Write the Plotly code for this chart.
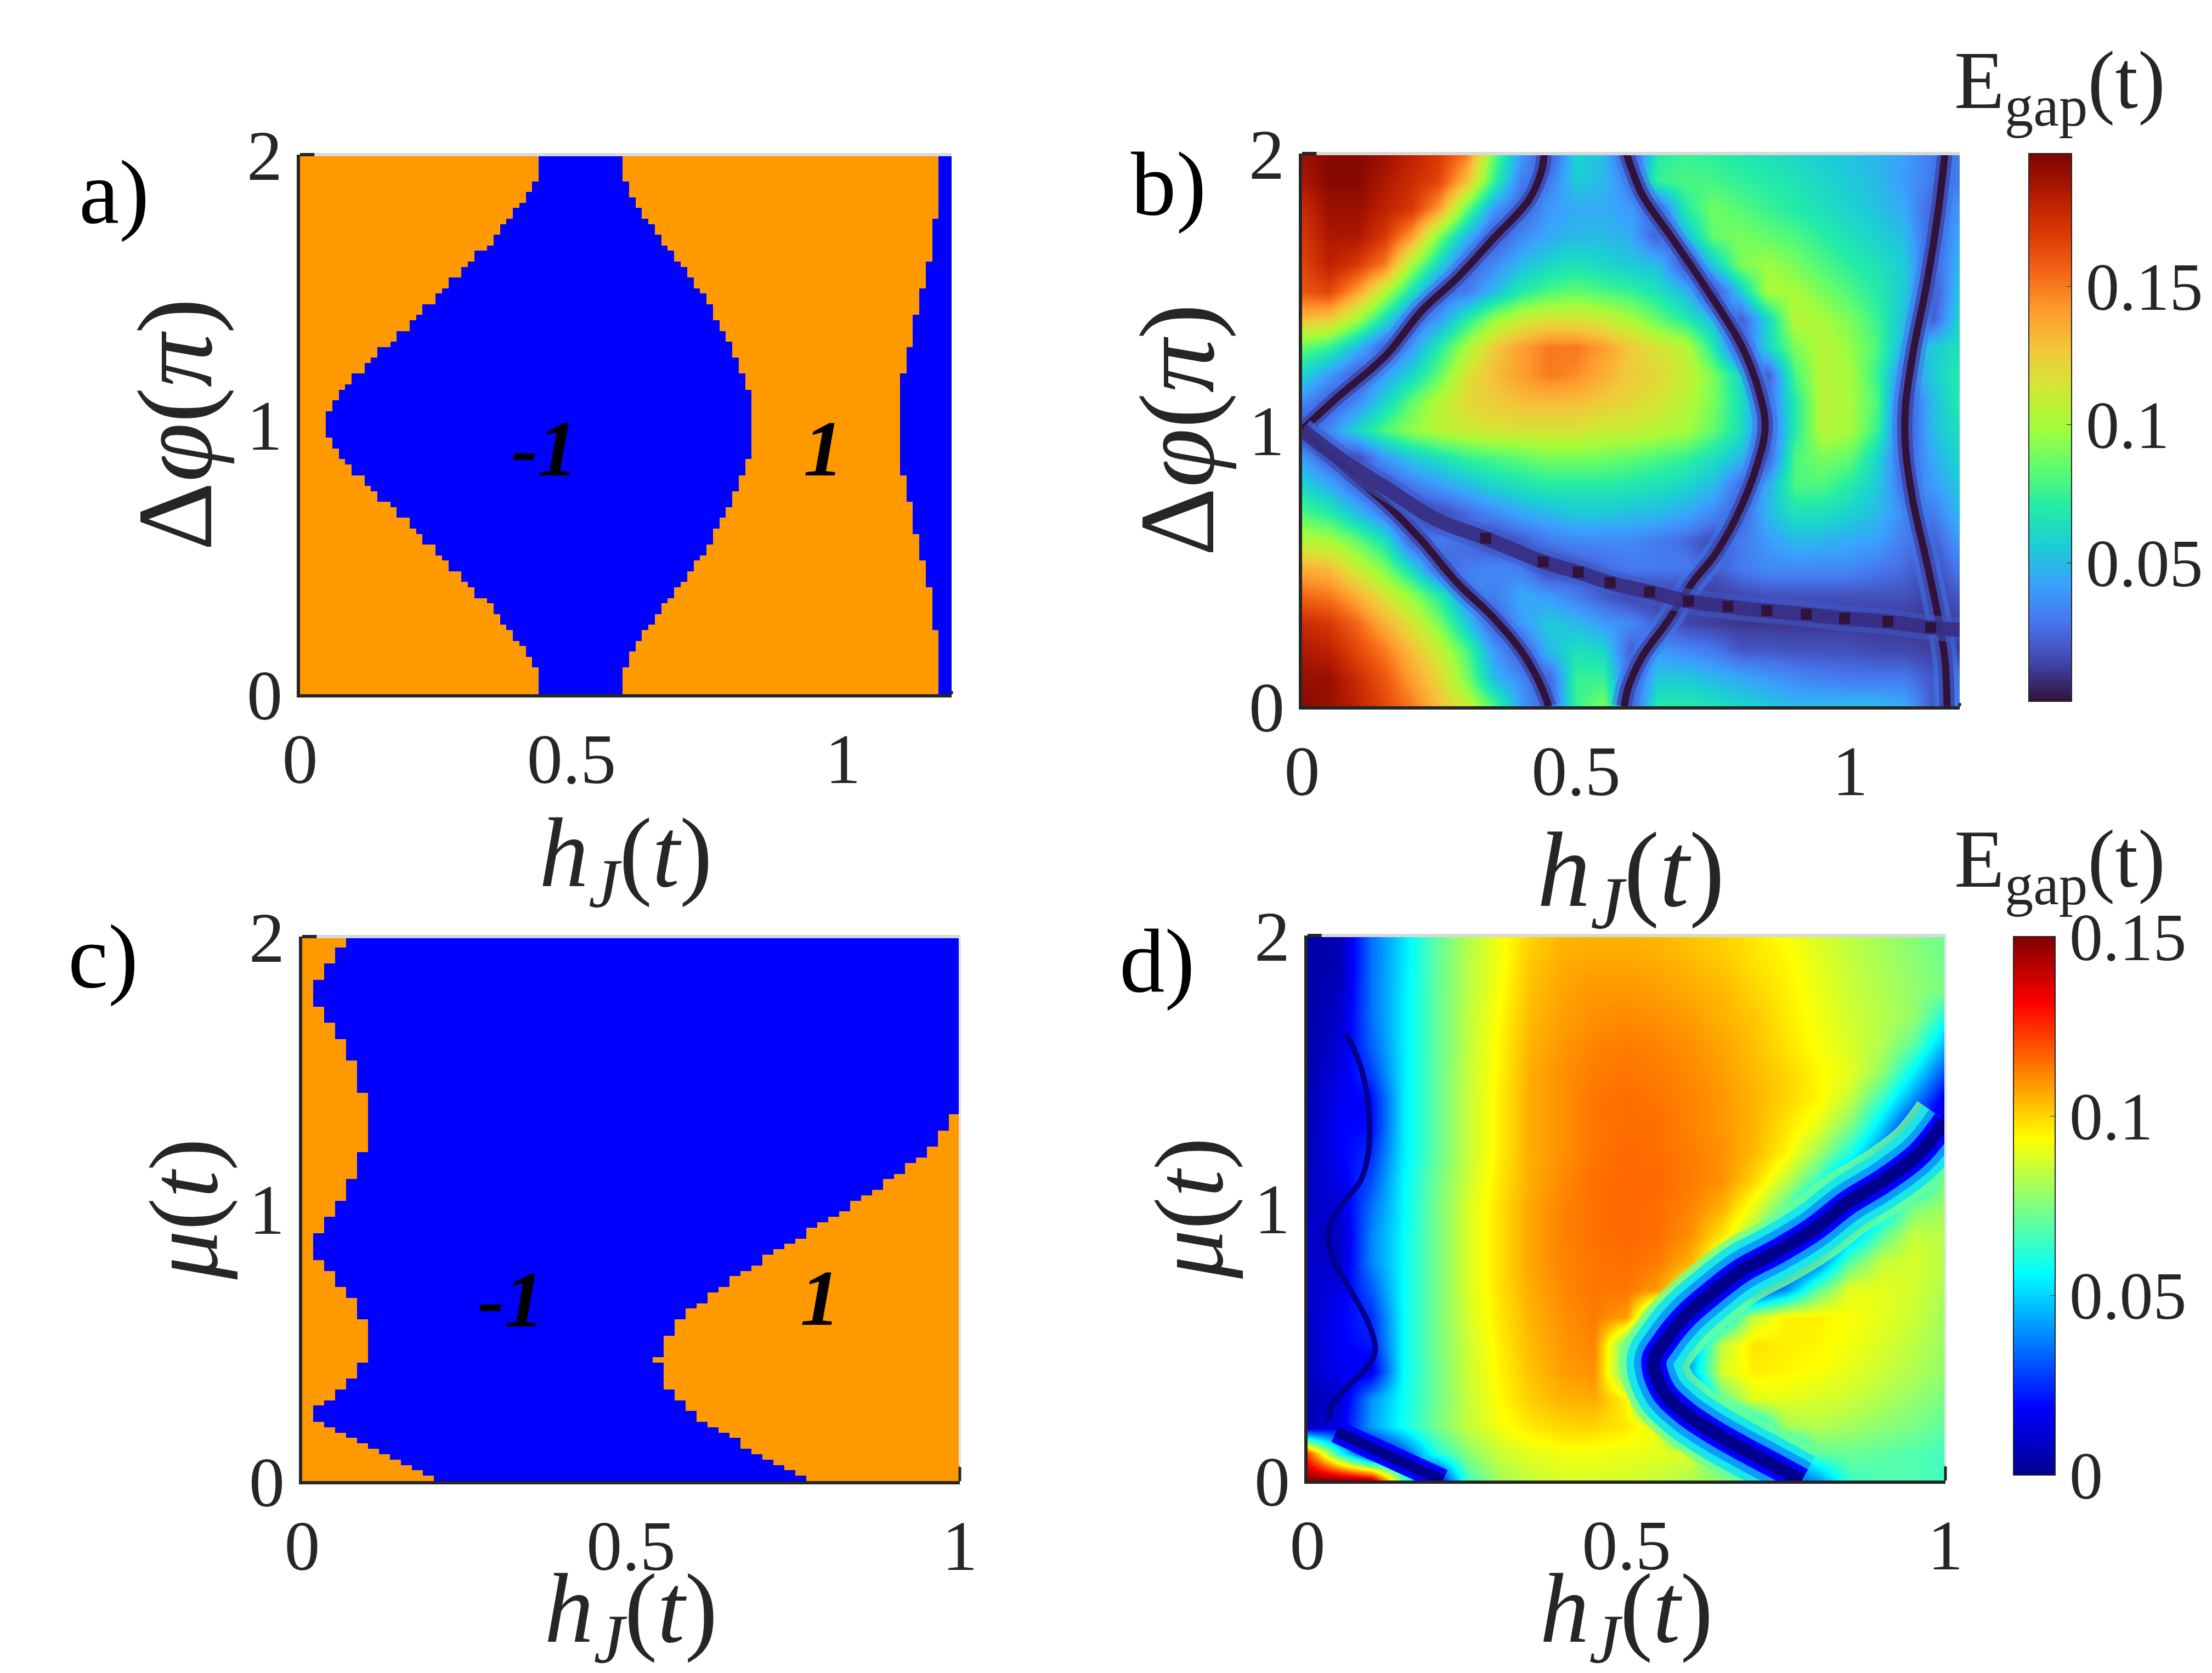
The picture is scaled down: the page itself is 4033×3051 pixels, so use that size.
import plotly.graph_objects as go

W, H = 4033, 3051
SERIF = "Liberation Serif"
INK = "#262626"

# ---------- panel a: topological phase boundaries (upper half, row index from the top, in grid columns)
a_left = [37,37,37,37,37,36,36,35,35,34,33,33,32,31,31,30,30,29,27,27,26,25,25,23,23,22,21,21,19,19,18,17,17,15,15,14,12,12,11,10,10,8,8,7,6,6,5,5,4,4,4]
a_mid = [50,50,50,50,50,51,51,51,52,52,53,53,54,55,55,56,56,57,58,58,59,60,60,61,61,62,63,63,64,64,64,65,65,66,66,67,67,67,68,68,68,69,69,69,70,70,70,70,70,70,70]
a_right = [99]*12 + [98]*8 + [97]*5 + [96]*5 + [95]*6 + [94]*5 + [93]*10
a_x_ticks = [0, 0.5, 1]
# ---------- panel c: run-length boundaries (columns, rows)
c_left_cols = [4,3,2,1,2,3,4,5,6,5,4,3,2,1,2,3,4,5,6,5,4,3,2,1,2,3,4,5,6,7,8,9,10,11,12]
c_left_rows = [2,3,3,5,3,3,4,6,11,5,4,3,3,5,2,3,2,4,8,3,2,2,1,3,1,1,1,1,1,1,1,1,1,1,1]
c_right_cols = [60,59,58,57,56,55,54,53,52,51,50,49,48,47,46,45,44,43,42,41,40,39,38,37,36,35,34,33,32,33,34,35,36,37,38,39,40,41,42,43,44,45,46]
c_right_rows = [33,3,3,2,1,2,1,2,1,1,2,1,1,1,2,1,1,1,2,1,1,2,1,2,1,2,3,4,1,5,2,2,2,1,1,1,2,1,1,1,1,1,1]

# ---------- panel b: E_gap
b_hj = [0,.05,.1,.15,.2,.25,.3,.35,.4,.45,.5,.55,.6,.65,.7,.75,.8,.85,.9,.95,1.0,1.05,1.1,1.15,1.2]
b_dphi = [2,1.9,1.8,1.7,1.6,1.5,1.4,1.3,1.2,1.1,1,.9,.8,.7,.6,.5,.4,.3,.2,.1,0]
b_gap = [
[.19,.195,.195,.19,.18,.17,.15,.085,.04,.015,.06,.05,.015,.07,.075,.072,.068,.064,.06,.056,.052,.048,.042,.03,.03],
[.185,.195,.195,.185,.175,.165,.13,.075,.03,.03,.055,.05,.03,.075,.08,.078,.074,.07,.066,.06,.055,.05,.04,.03,.03],
[.175,.19,.19,.18,.17,.14,.085,.04,.02,.04,.045,.045,.04,.02,.07,.088,.082,.076,.07,.064,.058,.052,.045,.02,.04],
[.17,.185,.185,.17,.14,.09,.05,.015,.035,.045,.05,.05,.045,.02,.05,.085,.09,.085,.08,.072,.065,.058,.05,.02,.045],
[.165,.18,.17,.15,.1,.06,.02,.035,.05,.06,.065,.06,.055,.05,.015,.055,.09,.098,.09,.08,.072,.065,.055,.02,.05],
[.16,.165,.14,.105,.065,.025,.03,.05,.07,.08,.085,.08,.075,.065,.05,.012,.055,.1,.1,.09,.08,.07,.055,.015,.055],
[.13,.125,.1,.065,.025,.04,.07,.095,.11,.115,.115,.11,.1,.085,.07,.05,.02,.06,.105,.1,.09,.075,.05,.02,.06],
[.085,.075,.05,.02,.04,.07,.1,.125,.14,.15,.15,.14,.125,.115,.105,.07,.015,.06,.09,.105,.095,.08,.045,.055,.065],
[.06,.04,.02,.04,.06,.085,.115,.13,.14,.15,.145,.135,.125,.12,.11,.09,.06,.02,.08,.105,.1,.075,.03,.055,.07],
[.035,.02,.035,.06,.085,.105,.12,.125,.13,.13,.13,.125,.12,.115,.105,.09,.065,.025,.07,.105,.1,.08,.015,.05,.07],
[.01,.035,.06,.08,.095,.105,.11,.115,.115,.115,.115,.11,.11,.105,.1,.085,.065,.02,.07,.105,.1,.075,.015,.05,.065],
[.04,.02,.015,.04,.055,.065,.075,.08,.085,.09,.09,.088,.085,.08,.075,.065,.05,.02,.08,.09,.085,.06,.02,.045,.06],
[.06,.045,.025,.015,.03,.04,.05,.06,.065,.07,.07,.07,.068,.065,.06,.05,.025,.045,.08,.08,.07,.055,.025,.04,.055],
[.08,.07,.05,.03,.012,.015,.025,.035,.045,.05,.055,.055,.052,.05,.045,.035,.02,.05,.065,.065,.058,.05,.035,.03,.05],
[.105,.1,.085,.065,.02,.03,.025,.012,.02,.03,.035,.035,.035,.03,.025,.015,.03,.04,.05,.048,.045,.042,.03,.02,.04],
[.135,.13,.11,.09,.06,.02,.03,.035,.03,.012,.018,.025,.03,.03,.03,.02,.03,.035,.035,.035,.035,.03,.025,.015,.03],
[.155,.15,.135,.115,.095,.07,.035,.03,.045,.04,.03,.02,.012,.012,.012,.012,.015,.018,.018,.018,.018,.018,.018,.012,.02],
[.175,.17,.155,.135,.115,.09,.055,.02,.04,.055,.05,.04,.035,.02,.015,.012,.01,.01,.01,.01,.01,.01,.01,.01,.012],
[.185,.18,.165,.15,.13,.11,.08,.04,.018,.05,.065,.06,.02,.04,.035,.03,.02,.02,.018,.018,.018,.015,.015,.012,.012],
[.19,.19,.175,.16,.14,.12,.09,.05,.035,.02,.075,.075,.02,.055,.055,.05,.045,.04,.035,.032,.03,.03,.03,.02,.03],
[.195,.19,.18,.165,.15,.13,.11,.08,.04,.02,.075,.09,.02,.07,.07,.065,.06,.055,.05,.05,.05,.05,.045,.02,.03],
]
# gap-closing lines of panel b
b_line1_x = [0,.06,.153,.218,.283,.348,.413,.436,.442]
b_line1_y = [1,1.11,1.27,1.43,1.55,1.69,1.83,1.93,2]
b_line2_x = [.592,.621,.673,.738,.803,.835,.845,.829,.79,.751,.712,.666,.621,.595,.588]
b_line2_y = [2,1.85,1.7,1.51,1.3,1.13,1.01,.865,.675,.542,.447,.304,.181,.067,0]
b_line3_x = [0,.075,.153,.218,.283,.348,.4,.433,.45]
b_line3_y = [1,.865,.732,.6,.447,.323,.2,.086,0]
b_line4_x = [1.173,1.16,1.14,1.114,1.101,1.101,1.114,1.14,1.16,1.173,1.177]
b_line4_y = [2,1.78,1.53,1.27,1.08,.94,.75,.52,.33,.17,0]
b_band_x = [0,.075,.153,.244,.335,.44,.504,.562,.634,.705,.777,.848,.92,.99,1.069,1.147,1.2]
b_band_y = [1,.888,.79,.677,.608,.523,.485,.447,.414,.38,.361,.346,.333,.318,.306,.285,.276]
b_dots_x = [.335,.44,.504,.562,.634,.705,.777,.848,.92,.99,1.069,1.147]
b_dots_y = [.608,.523,.485,.447,.414,.38,.361,.346,.333,.318,.306,.285]

# ---------- panel d: E_gap
d_hj = [0,.05,.1,.15,.2,.25,.3,.35,.4,.45,.5,.55,.6,.65,.7,.75,.8,.85,.9,.95,1.0]
d_mu = [2,1.9,1.8,1.7,1.6,1.5,1.4,1.3,1.2,1.1,1,.9,.8,.7,.6,.5,.4,.3,.2,.1,0]
d_gap = [
[.004,.006,.035,.052,.07,.082,.092,.1,.104,.105,.105,.104,.102,.1,.097,.093,.088,.084,.08,.076,.072],
[.004,.006,.035,.052,.07,.083,.092,.102,.106,.107,.107,.106,.104,.102,.098,.095,.09,.085,.081,.077,.073],
[.004,.008,.035,.053,.07,.083,.093,.103,.107,.109,.109,.108,.106,.104,.1,.096,.091,.086,.082,.078,.074],
[.004,.01,.035,.053,.07,.084,.094,.104,.108,.11,.111,.11,.108,.105,.102,.097,.092,.087,.083,.078,.06],
[.004,.012,.033,.053,.07,.084,.095,.105,.109,.112,.113,.112,.11,.107,.103,.098,.093,.088,.082,.07,.045],
[.005,.014,.028,.053,.07,.085,.095,.106,.11,.113,.114,.113,.111,.108,.104,.1,.095,.09,.078,.055,.03],
[.006,.016,.02,.053,.07,.085,.096,.106,.11,.114,.115,.114,.112,.109,.105,.1,.095,.085,.065,.04,.015],
[.006,.018,.02,.053,.07,.085,.096,.106,.11,.114,.115,.115,.112,.109,.105,.098,.09,.075,.05,.02,.01],
[.006,.018,.025,.053,.07,.085,.096,.106,.11,.114,.116,.115,.113,.11,.104,.095,.08,.06,.035,.01,.05],
[.008,.015,.03,.055,.072,.086,.097,.106,.111,.115,.116,.116,.113,.11,.1,.085,.065,.035,.02,.05,.075],
[.008,.012,.035,.055,.073,.088,.098,.107,.112,.115,.116,.115,.112,.105,.09,.07,.04,.01,.05,.075,.08],
[.01,.008,.038,.056,.073,.088,.098,.107,.112,.115,.116,.115,.11,.097,.08,.05,.015,.045,.07,.085,.083],
[.01,.01,.038,.056,.073,.088,.098,.107,.112,.114,.115,.113,.105,.085,.06,.015,.035,.07,.085,.088,.083],
[.01,.014,.032,.056,.073,.088,.098,.106,.111,.114,.114,.108,.09,.06,.02,.04,.07,.09,.09,.087,.082],
[.008,.018,.025,.056,.073,.087,.097,.105,.11,.113,.108,.06,.012,.05,.085,.096,.096,.093,.09,.086,.08],
[.008,.018,.022,.056,.073,.086,.096,.104,.109,.112,.07,.012,.04,.085,.098,.096,.095,.092,.088,.084,.079],
[.008,.016,.015,.056,.072,.086,.095,.103,.108,.11,.07,.012,.045,.088,.096,.095,.093,.09,.086,.082,.078],
[.006,.01,.04,.057,.072,.085,.094,.101,.105,.106,.095,.03,.025,.07,.09,.09,.088,.086,.082,.078,.074],
[.006,.014,.042,.058,.073,.085,.092,.097,.1,.1,.097,.09,.03,.03,.05,.08,.083,.08,.077,.074,.07],
[.12,.06,.01,.03,.06,.076,.086,.09,.092,.092,.091,.09,.088,.06,.012,.045,.07,.072,.07,.068,.066],
[.15,.15,.145,.07,.012,.065,.08,.085,.088,.088,.087,.085,.082,.078,.07,.03,.04,.065,.068,.068,.065],
]
d_line1_x = [1.0,.959,.903,.847,.792,.736,.68,.635,.591,.557,.543,.557,.591,.635,.68,.736,.775]
d_line1_y = [1.32,1.2,1.1,1.02,.92,.84,.77,.69,.6,.5,.44,.33,.25,.18,.12,.05,0]
d_line2_x = [.061,.083,.095,.095,.083,.056,.033,.039,.067,.095,.106,.095,.061,.039,.033]
d_line2_y = [1.64,1.52,1.38,1.2,1.1,1.02,.92,.82,.7,.58,.48,.42,.34,.28,.22]
d_line3_x = [.045,.1,.156,.212]
d_line3_y = [.18,.12,.06,0]

MATLAB_JET = [[0,"#00008f"],[.125,"#0000ff"],[.375,"#00ffff"],[.625,"#ffff00"],[.875,"#ff0000"],[1,"#800000"]]
PHASE = [[0,"#0000ff"],[1,"#ff9900"]]

def dom_x(a, b): return [a / W, b / W]
def dom_y(top, bottom): return [1 - bottom / H, 1 - top / H]
def expand(vals, runs):
    out = []
    for v, n in zip(vals, runs):
        out += [v] * n
    return out

a_L = a_left + a_left[-2::-1]
a_M = a_mid + a_mid[-2::-1]
a_R = a_right + a_right[-2::-1]
a_z = [[-1 if (a_L[r] <= k < a_M[r] or k >= a_R[r]) else 1 for k in range(101)] for r in range(101)]
c_L = expand(c_left_cols, c_left_rows)
c_R = expand(c_right_cols, c_right_rows)
c_z = [[1 if (k < c_L[r] or k >= c_R[r]) else -1 for k in range(60)] for r in range(101)]

fig = go.Figure()

fig.add_trace(go.Heatmap(z=a_z[::-1], x=[(k + .5) * 1.2 / 101 for k in range(101)], y=[(r + .5) * 2 / 101 for r in range(101)],
                         colorscale=PHASE, zmin=-1, zmax=1, showscale=False, xaxis="x", yaxis="y"))
fig.add_trace(go.Heatmap(z=b_gap[::-1], x=b_hj, y=b_dphi[::-1], colorscale="Turbo", zmin=0, zmax=.198, zsmooth="best",
                         xaxis="x2", yaxis="y2",
                         colorbar=dict(x=3691 / W, xanchor="left", thickness=78, thicknessmode="pixels", len=(1271 - 272) / H, lenmode="fraction",
                                       y=1 - 1271 / H, yanchor="bottom", outlinecolor=INK, outlinewidth=2, tickmode="array",
                                       tickvals=[.05, .1, .15], ticktext=["0.05", "0.1", "0.15"], ticks="inside", ticklen=10, tickcolor=INK,
                                       tickfont=dict(family=SERIF, size=122, color=INK), xpad=0, ypad=0)))

def gap_line(x, y, ax, ay, widths, colors):
    for w, col in zip(widths, colors):
        fig.add_trace(go.Scatter(x=x, y=y, mode="lines", line=dict(color=col, width=w, shape="spline"),
                                 xaxis=ax, yaxis=ay, showlegend=False, hoverinfo="skip"))

B_W = [46, 28, 13]
B_C = ["rgba(60,120,235,.55)", "rgba(62,70,170,.85)", "#30123b"]
for x, y in [(b_line1_x, b_line1_y), (b_line2_x, b_line2_y), (b_line3_x, b_line3_y), (b_line4_x, b_line4_y)]:
    gap_line(x, y, "x2", "y2", B_W, B_C)
gap_line(b_band_x, b_band_y, "x2", "y2", [46, 26], ["rgba(62,90,200,.55)", "rgba(55,45,130,.9)"])
fig.add_trace(go.Scatter(x=b_dots_x, y=b_dots_y, mode="markers", marker=dict(color="#30123b", size=20, symbol="square"),
                         xaxis="x2", yaxis="y2", showlegend=False, hoverinfo="skip"))

fig.add_trace(go.Heatmap(z=c_z[::-1], x=[(k + .5) / 60 for k in range(60)], y=[(r + .5) * 2 / 101 for r in range(101)],
                         colorscale=PHASE, zmin=-1, zmax=1, showscale=False, xaxis="x3", yaxis="y3"))
fig.add_trace(go.Heatmap(z=d_gap[::-1], x=d_hj, y=d_mu[::-1], colorscale=MATLAB_JET, zmin=0, zmax=.15, zsmooth="best",
                         xaxis="x4", yaxis="y4",
                         colorbar=dict(x=3663 / W, xanchor="left", thickness=76, thicknessmode="pixels", len=(2682 - 1700) / H, lenmode="fraction",
                                       y=1 - 2682 / H, yanchor="bottom", outlinecolor=INK, outlinewidth=2, tickmode="array",
                                       tickvals=[0, .05, .1, .15], ticktext=["0", "0.05", "0.1", "0.15"], ticks="inside", ticklen=10, tickcolor=INK,
                                       tickfont=dict(family=SERIF, size=122, color=INK), xpad=0, ypad=0)))
gap_line(d_line1_x, d_line1_y, "x4", "y4", [125, 100, 72, 46, 24],
         ["rgba(110,255,150,.8)", "#19e6e6", "#0a9cff", "#0000ff", "#00008f"])
gap_line(d_line2_x, d_line2_y, "x4", "y4", [10], ["#00008f"])
gap_line(d_line3_x, d_line3_y, "x4", "y4", [42, 20], ["#0000ff", "#00008f"])

HJ = "<i>h</i><sub><i>J</i></sub>(<i>t</i>)"
DP = "Δ<i>φ</i>(<i>π</i>)"
MU = "<i>μ</i>(<i>t</i>)"

def axis(domain, rng, title, size, standoff, anchor, tickvals, lblstand):
    return dict(domain=domain, range=rng, anchor=anchor, showgrid=False, zeroline=False, showline=True, linecolor=INK, linewidth=6,
                ticks="", tickmode="array", tickvals=tickvals, ticktext=[str(t) for t in tickvals], layer="above traces",
                tickfont=dict(family=SERIF, size=130, color=INK), ticklabelstandoff=lblstand,
                title=dict(text=title, font=dict(family=SERIF, size=size, color=INK), standoff=standoff), automargin=False)

layout = dict(width=W, height=H, margin=dict(l=0, r=0, t=0, b=0), paper_bgcolor="white", plot_bgcolor="white", showlegend=False)
layout["xaxis"] = axis(dom_x(539, 1727), [0, 1.2], HJ, 180, 0, "y", [0, .5, 1], 0)
layout["yaxis"] = axis(dom_y(274, 1258), [0, 2], DP, 195, 0, "x", [0, 1, 2], 0)
layout["xaxis2"] = axis(dom_x(2366, 3565), [0, 1.2], HJ, 195, 0, "y2", [0, .5, 1], 0)
layout["yaxis2"] = axis(dom_y(272, 1280), [0, 2], DP, 195, 0, "x2", [0, 1, 2], 0)
layout["xaxis3"] = axis(dom_x(543, 1742), [0, 1], HJ, 180, 0, "y3", [0, .5, 1], 0)
layout["yaxis3"] = axis(dom_y(1700, 2693), [0, 2], MU, 178, 0, "x3", [0, 1, 2], 0)
layout["xaxis4"] = axis(dom_x(2376, 3539), [0, 1], HJ, 180, 0, "y4", [0, .5, 1], 0)
layout["yaxis4"] = axis(dom_y(1698, 2692), [0, 2], MU, 178, 0, "x4", [0, 1, 2], 0)

shapes = []
for s, tick_up in [("", 6), ("2", 6), ("3", 26), ("4", 26)]:
    xr, yr = f"x{s} domain", f"y{s} domain"
    shapes.append(dict(type="line", xref=xr, yref=yr, x0=0, x1=1, y0=1, y1=1, line=dict(color="#d9d9d9", width=6), layer="above"))
    shapes.append(dict(type="line", xref=xr, yref=yr, x0=0, x1=.022, y0=1, y1=1, line=dict(color=INK, width=6), layer="above"))
    shapes.append(dict(type="line", xref=xr, yref=yr, x0=1, x1=1, y0=0, y1=tick_up / 1000, line=dict(color=INK, width=5), layer="above"))
for s in ["3", "4"]:
    shapes.append(dict(type="line", xref=f"x{s} domain", yref=f"y{s} domain", x0=1, x1=1, y0=.03, y1=1, line=dict(color="#e4e4e4", width=4), layer="above"))
layout["shapes"] = shapes

def paper(text, px, py, size, color="black", **kw):
    return dict(text=text, x=px / W, y=1 - py / H, xref="paper", yref="paper", showarrow=False, xanchor="center", yanchor="middle",
                font=dict(family=SERIF, size=size, color=color), **kw)

def inside(text, x, y, ax, ay):
    return dict(text=f"<b><i>{text}</i></b>", x=x, y=y, xref=ax, yref=ay, showarrow=False,
                font=dict(family=SERIF, size=145, color="black"))

EG = "E<sub>gap</sub>(t)"
layout["annotations"] = [
    paper("a)", 200, 342, 165), paper("b)", 2122, 327, 165), paper("c)", 180, 1736, 165), paper("d)", 2101, 1744, 165),
    paper(EG, 3747, 150, 150, INK), paper(EG, 3747, 1569, 150, INK),
    inside("-1", .45, .91, "x", "y"), inside("1", .964, .91, "x", "y"),
    inside("-1", .317, .667, "x3", "y3"), inside("1", .788, .673, "x3", "y3"),
]
fig.update_layout(**layout)
fig.write_html("out.html")
